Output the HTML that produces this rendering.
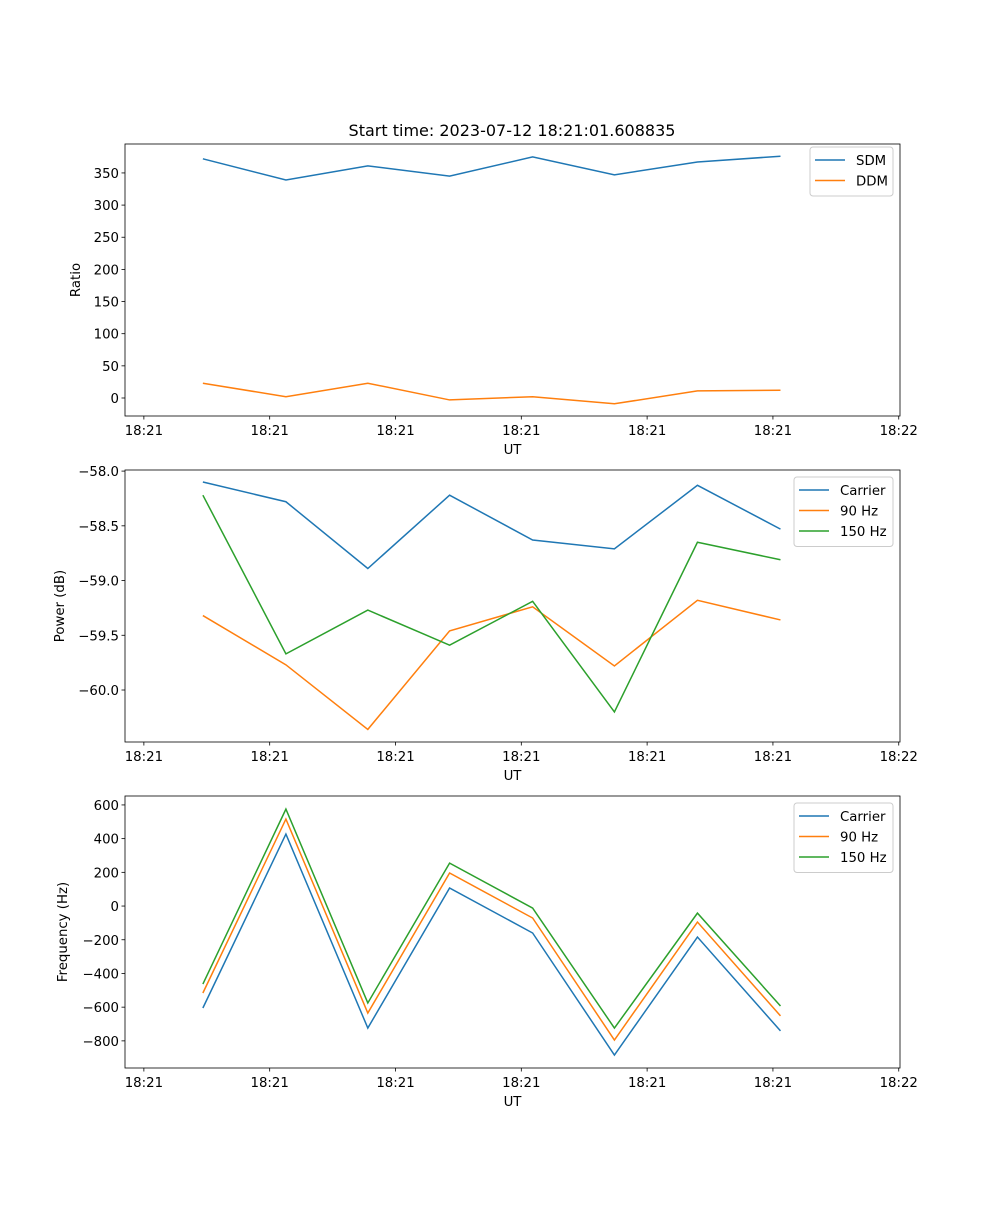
<!DOCTYPE html>
<html><head><meta charset="utf-8"><style>
body{margin:0;background:#fff}
svg text{font-family:"DejaVu Sans","Liberation Sans",sans-serif;font-size:13.3px;fill:#000}
</style></head><body>
<svg id="fig" width="1000" height="1200" xmlns="http://www.w3.org/2000/svg"></svg>
<script>
const times = [4.69, 11.29, 17.8, 24.3, 30.9, 37.4, 44.0, 50.6];
const xTicks = [0, 10, 20, 30, 40, 50, 60];
const xTickLabels = ["18:21","18:21","18:21","18:21","18:21","18:21","18:22"];
const sdm = [372, 339, 361, 345, 375, 347, 367, 376];
const ddm = [23, 2, 23, -3, 2, -9, 11, 12];
const ratioTicks = [0, 50, 100, 150, 200, 250, 300, 350];
const powCarrier = [-58.10, -58.28, -58.89, -58.22, -58.63, -58.71, -58.13, -58.53];
const pow90 = [-59.32, -59.77, -60.36, -59.46, -59.24, -59.78, -59.18, -59.36];
const pow150 = [-58.22, -59.67, -59.27, -59.59, -59.19, -60.20, -58.65, -58.81];
const powTicks = [-58.0, -58.5, -59.0, -59.5, -60.0];
const freqCarrier = [-605, 427, -724, 107, -160, -884, -184, -741];
const freq90 = [-516, 516, -635, 196, -71, -795, -95, -652];
const freq150 = [-463, 575, -575, 255, -12, -724, -42, -593];
const freqTicks = [600, 400, 200, 0, -200, -400, -600, -800];

const NS="http://www.w3.org/2000/svg", svg=document.getElementById('fig');
function mk(tag, attrs, parent){const e=document.createElementNS(NS,tag);for(const k in attrs)e.setAttribute(k,attrs[k]);(parent||svg).appendChild(e);return e;}
const L=125,R=900,X0=-1.5,X1=60.1;
const xs=v=>L+(v-X0)/(X1-X0)*(R-L);
const COLORS=['#1f77b4','#ff7f0e','#2ca02c'];

function panel(name,top,bot,y0,y1,yTicks,fmt,series,labels,ylabel,legend){
  const g=mk('g',{});
  
  
  const ys=v=>bot-(v-y0)/(y1-y0)*(bot-top);
  series.forEach((s,i)=>{
    const p=mk('polyline',{points:s.map((v,j)=>xs(times[j])+','+ys(v)).join(' '),fill:'none',stroke:COLORS[i],'stroke-width':1.5},g);
    
    
  });
  const fr=mk('rect',{x:L,y:top,width:R-L,height:bot-top,fill:'none',stroke:'#000','stroke-width':0.8},g);
  
  
  xTicks.forEach((t,i)=>{
    mk('line',{x1:xs(t),x2:xs(t),y1:bot,y2:bot+3.5,stroke:'#000','stroke-width':0.8},g);
    const tx=mk('text',{x:xs(t),y:bot+19,'text-anchor':'middle'},g);tx.textContent=xTickLabels[i];
    
    
  });
  yTicks.forEach(t=>{
    mk('line',{x1:L,x2:L-3.5,y1:ys(t),y2:ys(t),stroke:'#000','stroke-width':0.8},g);
    const tx=mk('text',{x:L-6,y:ys(t)+5,'text-anchor':'end'},g);tx.textContent=fmt(t);
    
    
  });
  const xl=mk('text',{x:(L+R)/2,y:bot+38,'text-anchor':'middle'},g);xl.textContent='UT';
  
  
  const yl=mk('text',{x:0,y:0,'text-anchor':'middle',transform:`translate(${legend.yx},${(top+bot)/2}) rotate(-90)`},g);yl.textContent=ylabel;
  
  
  const lg=mk('g',{},g);
  
  
  mk('rect',{x:legend.x,y:top+legend.dy,width:legend.w,height:labels.length*20.5+8,rx:3,fill:'#fff','fill-opacity':0.8,stroke:'#ccc'},lg);
  labels.forEach((lab,i)=>{
    const yy=top+legend.dy+13+i*20.5;
    mk('line',{x1:legend.x+5,x2:legend.x+35,y1:yy,y2:yy,stroke:COLORS[i],'stroke-width':1.5},lg);
    const t=mk('text',{x:legend.x+46,y:yy+5},lg);t.textContent=lab;
    
    
  });
}
const tt=mk('text',{x:512,y:136,'text-anchor':'middle'});
tt.style.fontSize='16px';
tt.textContent='Start time: 2023-07-12 18:21:01.608835';


panel('ratio-panel',144,416,-28,395,ratioTicks,v=>String(v),[sdm,ddm],['SDM','DDM'],'Ratio',{x:810,dy:3,w:83,yx:80});
panel('power-panel',470,742,-60.475,-57.99,powTicks,v=>v.toFixed(1).replace('-','\u2212'),[powCarrier,pow90,pow150],['Carrier','90 Hz','150 Hz'],'Power (dB)',{x:794,dy:7,w:99,yx:64});
panel('frequency-panel',796,1068,-961,653,freqTicks,v=>String(v).replace('-','\u2212'),[freqCarrier,freq90,freq150],['Carrier','90 Hz','150 Hz'],'Frequency (Hz)',{x:794,dy:7,w:99,yx:67});
</script>
</body></html>
